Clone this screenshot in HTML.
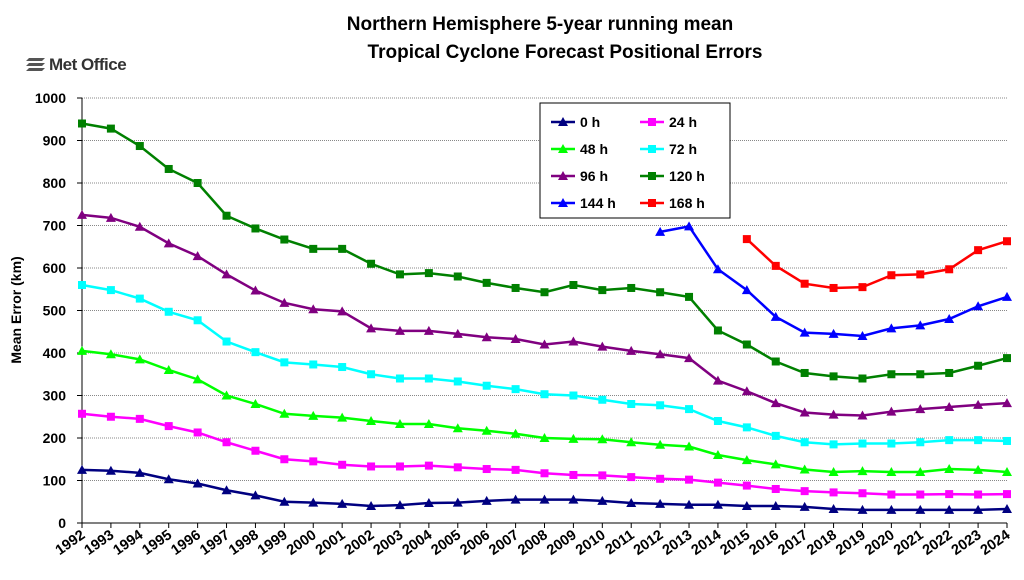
<!DOCTYPE html>
<html><head><meta charset="utf-8"><style>
body{margin:0;background:#fff;font-family:"Liberation Sans",Arial,sans-serif}
svg text{font-family:"Liberation Sans",Arial,sans-serif;font-weight:bold}
</style></head><body>
<svg id="c" width="1024" height="575" xmlns="http://www.w3.org/2000/svg">
<text x="540" y="30" text-anchor="middle" font-size="19">Northern Hemisphere 5-year running mean</text>
<text x="565" y="58" text-anchor="middle" font-size="19">Tropical Cyclone Forecast Positional Errors</text>
<g fill="#555"><path d="M29 58h16l-3 3H26zM29 63h16l-3 3H26zM29 68h16l-3 3H26z"/></g>
<text x="49" y="70" font-size="17" fill="#333" letter-spacing="-0.5">Met Office</text>
<text transform="translate(21,310) rotate(-90)" text-anchor="middle" font-size="14">Mean Error (km)</text>
<g id="grid"></g>
<g id="series"></g>
<rect x="540" y="103" width="190" height="115" fill="#fff" stroke="#000" stroke-width="1"/>
<g id="leg"></g>
</svg>
<script>
const ns="http://www.w3.org/2000/svg";
const X0=82,DX=(1007-82)/32,Y0=523,K=0.425;
const svg=document.getElementById('c'),grid=document.getElementById('grid'),ser=document.getElementById('series'),leg=document.getElementById('leg');
function el(t,a,p){const e=document.createElementNS(ns,t);for(const k in a)e.setAttribute(k,a[k]);(p||svg).appendChild(e);return e;}
for(let v=0;v<=1000;v+=100){const y=Y0-v*K;
 if(v>0)el('line',{x1:X0,x2:1007,y1:y,y2:y,stroke:'#888','stroke-dasharray':'1,1'},grid);
 el('line',{x1:X0-5,x2:X0,y1:y,y2:y,stroke:'#000'},grid);
 const t=el('text',{x:66,y:y+5,'text-anchor':'end','font-size':14},grid);t.textContent=v;}
el('line',{x1:X0,x2:X0,y1:98,y2:Y0,stroke:'#000'},grid);
el('line',{x1:X0,x2:1007,y1:Y0,y2:Y0,stroke:'#000'},grid);
for(let i=0;i<33;i++){const x=X0+i*DX;el('line',{x1:x,x2:x,y1:Y0,y2:Y0+5,stroke:'#000'},grid);
 const t=el('text',{transform:`translate(${x+4},${Y0+14}) rotate(-35)`,'text-anchor':'end','font-size':14.5},grid);t.textContent=1992+i;}
const S=[
['0 h','#000080','t',0,[125,123,118,103,93,77,65,50,48,45,40,42,47,48,52,55,55,55,52,47,45,43,43,40,40,38,33,31,31,31,31,31,33]],
['24 h','#ff00ff','s',0,[257,250,245,228,213,190,170,150,145,137,133,133,135,131,127,125,117,113,112,108,104,102,95,88,80,75,72,70,67,67,68,67,68]],
['48 h','#00ff00','t',0,[405,397,385,360,338,300,280,257,252,248,240,233,233,223,217,210,200,198,197,190,184,180,160,148,138,126,120,122,120,120,127,125,120]],
['72 h','#00ffff','s',0,[560,548,528,497,477,427,402,378,373,367,350,340,340,333,323,315,303,300,290,280,277,268,240,225,205,190,185,187,187,190,195,195,193]],
['96 h','#800080','t',0,[725,718,697,658,628,585,547,518,503,498,458,452,452,445,437,433,420,427,415,405,397,388,335,310,282,260,255,253,262,268,273,278,282]],
['120 h','#008000','s',0,[940,928,887,833,800,723,693,667,645,645,610,585,588,580,565,553,543,560,548,553,543,532,453,420,380,353,345,340,350,350,353,370,388]],
['144 h','#0000ff','t',20,[685,698,597,548,485,448,445,440,458,465,480,510,532]],
['168 h','#ff0000','s',23,[668,605,563,553,555,583,585,597,642,663]]];
function mk(type,x,y,c,p){if(type=='t')el('path',{d:`M${x} ${y-5}L${x+5} ${y+4}L${x-5} ${y+4}Z`,fill:c},p);else el('rect',{x:x-4,y:y-4,width:8,height:8,fill:c},p);}
S.forEach((s,si)=>{const pts=s[4].map((v,i)=>[X0+(s[3]+i)*DX,Y0-v*K]);
 el('polyline',{points:pts.map(p=>p.join(',')).join(' '),fill:'none',stroke:s[1],'stroke-width':2.5},ser);
 pts.forEach(p=>mk(s[2],p[0],p[1],s[1],ser));
 const col=si%2,row=Math.floor(si/2),lx=col?640:551,ly=122+row*27;
 el('line',{x1:lx,x2:lx+24,y1:ly,y2:ly,stroke:s[1],'stroke-width':2.5},leg);mk(s[2],lx+12,ly,s[1],leg);
 const t=el('text',{x:lx+29,y:ly+5,'font-size':14},leg);t.textContent=s[0];});
</script>
</body></html>
